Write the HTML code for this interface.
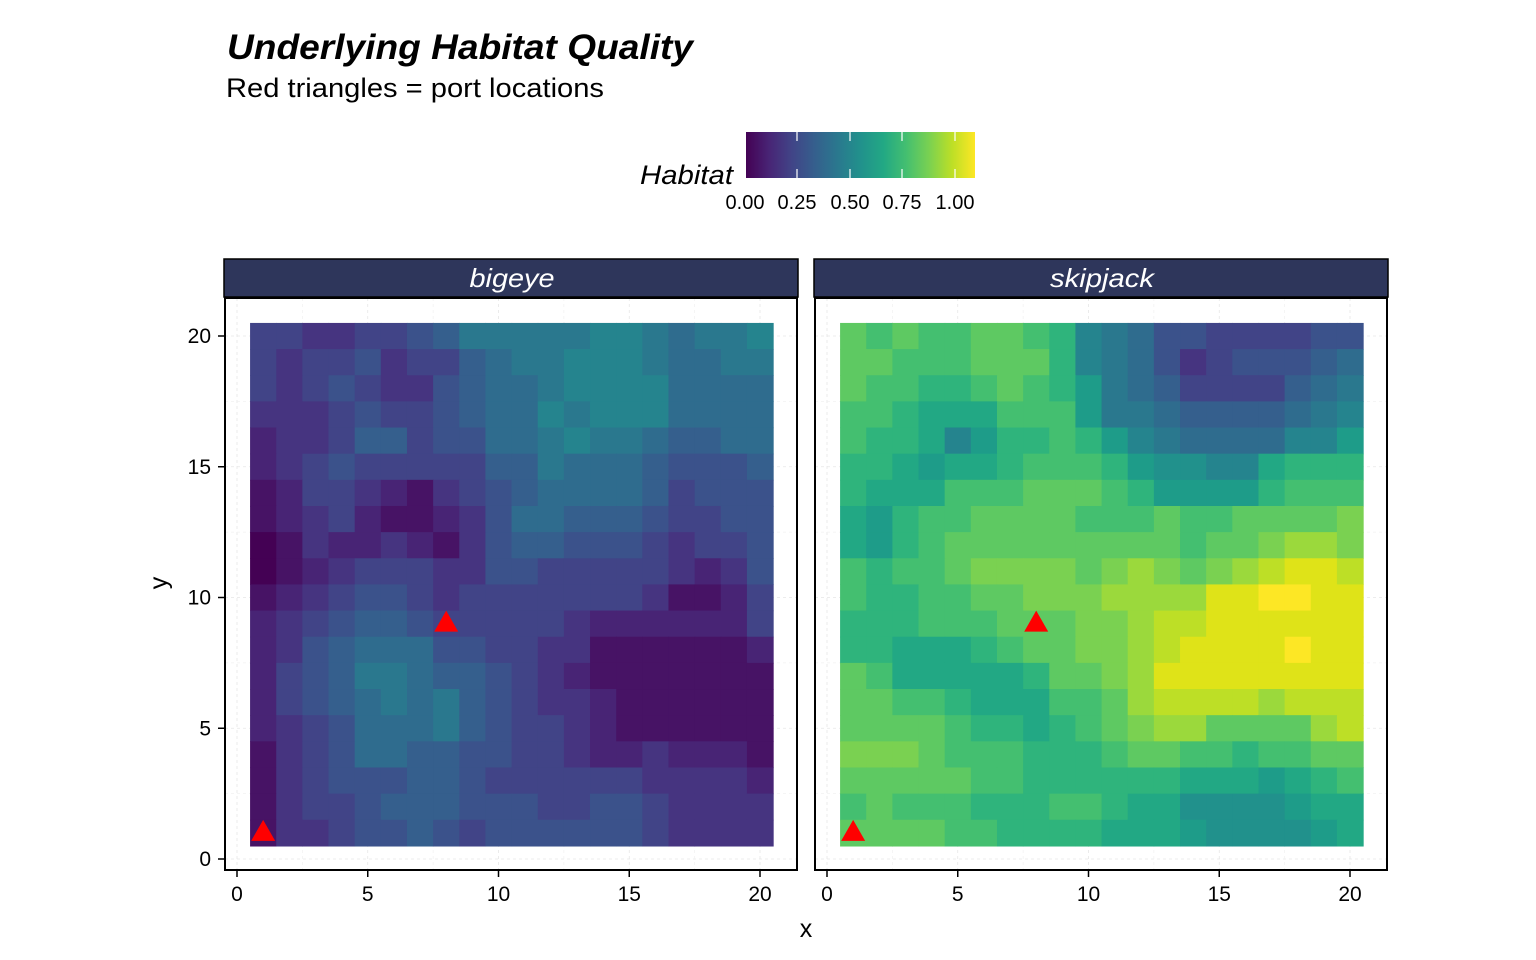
<!DOCTYPE html>
<html><head><meta charset="utf-8">
<style>
html,body{margin:0;padding:0;background:#fff;}
svg{display:block;font-family:"Liberation Sans",Arial,sans-serif;}
</style></head>
<body>
<svg id="s" width="1536" height="960" viewBox="0 0 1536 960" xmlns="http://www.w3.org/2000/svg">
<defs>
<linearGradient id="vg" x1="0" x2="1" y1="0" y2="0">
<stop offset="0" stop-color="#440154"/><stop offset="0.1" stop-color="#482475"/>
<stop offset="0.2" stop-color="#414487"/><stop offset="0.3" stop-color="#355f8d"/>
<stop offset="0.4" stop-color="#2a788e"/><stop offset="0.5" stop-color="#21918c"/>
<stop offset="0.6" stop-color="#22a884"/><stop offset="0.7" stop-color="#44bf70"/>
<stop offset="0.8" stop-color="#7ad151"/><stop offset="0.9" stop-color="#bddf26"/>
<stop offset="1" stop-color="#fde725"/>
</linearGradient>
</defs>
<text x="227" y="59" font-size="35" font-weight="bold" font-style="italic" textLength="466" lengthAdjust="spacingAndGlyphs">Underlying Habitat Quality</text>
<text x="226" y="97" font-size="27" textLength="378" lengthAdjust="spacingAndGlyphs">Red triangles = port locations</text>
<rect x="746" y="132" width="229" height="46" fill="url(#vg)"/>
<g stroke="#fff" stroke-width="1.2">
<line x1="797" y1="132" x2="797" y2="141"/><line x1="797" y1="169" x2="797" y2="178"/>
<line x1="850" y1="132" x2="850" y2="141"/><line x1="850" y1="169" x2="850" y2="178"/>
<line x1="902" y1="132" x2="902" y2="141"/><line x1="902" y1="169" x2="902" y2="178"/>
<line x1="955" y1="132" x2="955" y2="141"/><line x1="955" y1="169" x2="955" y2="178"/>
</g>
<text x="640" y="184" font-size="27" font-style="italic" textLength="93" lengthAdjust="spacingAndGlyphs">Habitat</text>
<g font-size="20" text-anchor="middle">
<text x="745" y="209">0.00</text><text x="797" y="209">0.25</text><text x="850" y="209">0.50</text><text x="902" y="209">0.75</text><text x="955" y="209">1.00</text>
</g>
<g id="panels"></g>
<text x="806" y="937" font-size="25" text-anchor="middle">x</text>
<text x="167" y="583" font-size="25" text-anchor="middle" transform="rotate(-90 167 583)">y</text>
</svg>
<script>
var stops=["#440154","#471365","#482475","#463480","#414487","#3b528b","#355f8d","#2f6c8e","#2a788e","#25848e","#21918c","#1e9c89","#22a884","#2fb47c","#44bf70","#5ec962","#7ad151","#9bd93c","#bddf26","#dfe318","#fde725"];
var L=["eeddeefgiiiiijjihiij","edeefdeeghiijjjihhii","edefeddfghhijjjjhhhh","dddefeefghhjijjjhhhh","cddeggeffhhijiihgghh","cdefeeeeeggihhhgfffg","bceedcbdefghhhhgefff","bcdecbbcdfhhgggfeeff","abdccdcbdfggfffedeef","abcdeeeddffeeeeedcdf","bcdeffedeeeeeeedbbce","cdefggfeeeeedcccccce","cdfghhhffeeddbbbbbbc","cefgiihggfedcbbbbbbb","cefghihigfeddcbbbbbb","cdefhhhigfeedcbbbbbb","bdefhhggffeedccdcccb","bdefffggfeeeeeeddddc","bdeefgggfffeeffedddd","bddeffgfeffffffedddd"];
var R=["popoopponjihffeeeeff","ppooopppnjihfdefffgh","poonnoponlihgeeeeghi","oonmmmoooliihgggghij","onnmjlnnonljihhhhjjl","nnmlmmnooonlkkjjmnnn","nmmmoooppponllllnooo","mlnooppppooopooppppq","mlnopppppppppoppqrrq","onoopqqqqpqrqpqrstts","onnooppqqqrrrrttuutt","nnnooopppqqrsstttttt","nnmmmnoppqqrsttttutt","pommmmmnppqrtttttttt","ppoonmmmooprssssrsss","pppponnmnopqrrpppprs","qqqpooonnnoppoonoopp","pppppoonnnnnnmmmlmno","opooonnnoonmmkkkklmm","ppppoonnnnmmmlkkkklm"];
var g=document.getElementById("panels"),h="";
var u=26.15;
function panel(px,name,data,tl){
 var x0=px+12;
 h+='<rect x="'+(px-1)+'" y="259" width="574" height="38" fill="#2e365b" stroke="#000" stroke-width="1.5"/>';
 h+='<text x="'+(px+287)+'" y="287" font-size="26" font-style="italic" fill="#fff" text-anchor="middle" textLength="'+tl+'" lengthAdjust="spacingAndGlyphs">'+name+'</text>';
 h+='<rect x="'+px+'" y="298" width="572" height="572" fill="#fff"/>';
 for(var k=0;k<=8;k++){var v=k*2.5,X=x0+v*u,Y=859-v*u;var c=k%2?"#f2f2f2":"#e6e6e6";
  h+='<line x1="'+X+'" y1="298" x2="'+X+'" y2="870" stroke="'+c+'" stroke-dasharray="3,3" stroke-width="0.8"/>';
  h+='<line x1="'+px+'" y1="'+Y+'" x2="'+(px+572)+'" y2="'+Y+'" stroke="'+c+'" stroke-dasharray="3,3" stroke-width="0.8"/>';}
 for(var r=0;r<20;r++)for(var cI=0;cI<20;cI++){var ch=data[r].charCodeAt(cI)-97;if(ch<0||ch>20)ch=5;
  var X=x0+(cI+0.5)*u,Y=859-(20.5-r)*u;
  h+='<rect x="'+X.toFixed(2)+'" y="'+Y.toFixed(2)+'" width="'+(u+0.6).toFixed(2)+'" height="'+(u+0.6).toFixed(2)+'" fill="'+stops[ch]+'"/>';}
 [[1,1],[8,9]].forEach(function(p){var X=x0+p[0]*u,Y=859-p[1]*u;
  h+='<polygon points="'+X+','+(Y-13)+' '+(X-12)+','+(Y+8)+' '+(X+12)+','+(Y+8)+'" fill="#ff0000"/>';});
 h+='<rect x="'+px+'" y="298" width="572" height="572" fill="none" stroke="#000" stroke-width="2"/>';
 for(var k=0;k<=4;k++){var X=x0+k*5*u;h+='<line x1="'+X+'" y1="871" x2="'+X+'" y2="877" stroke="#000" stroke-width="1.5"/>';
  h+='<text x="'+X+'" y="901" font-size="21" text-anchor="middle">'+(k*5)+'</text>';}
}
panel(225,"bigeye",L,85);panel(815,"skipjack",R,104);
for(var k=0;k<=4;k++){var Y=859-k*5*u;h+='<line x1="218" y1="'+Y+'" x2="224" y2="'+Y+'" stroke="#000" stroke-width="1.5"/>';
 h+='<text x="211" y="'+(Y+7)+'" font-size="21" text-anchor="end">'+(k*5)+'</text>';}
g.innerHTML=h;
</script>
</body></html>
